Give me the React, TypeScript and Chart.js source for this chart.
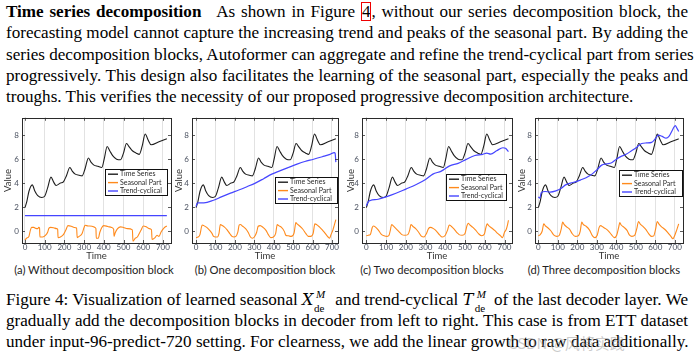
import React, { useEffect, useRef } from "react";
import { Chart, registerables } from "chart.js";
Chart.register(...registerables);

// ---------- DATA ----------
// Time series (same in every panel)
const seriesT = [0, 10, 20, 37, 50, 65, 85, 100, 115, 132, 145, 158, 180, 195, 210, 228, 240, 255, 275, 290, 305, 322, 335, 350, 370, 390, 402, 417, 430, 445, 465, 485, 500, 515, 530, 545, 565, 580, 595, 610, 625, 640, 680, 720];
const seriesV = [1.95, 2.5, 3.3, 3.85, 3.35, 2.95, 2.8, 2.9, 3.6, 4.5, 4.1, 3.8, 4.0, 4.1, 4.6, 5.3, 5.0, 4.75, 4.65, 4.6, 5.2, 6.1, 5.75, 5.5, 5.4, 5.3, 6.0, 7.05, 6.7, 6.3, 6.0, 5.95, 6.5, 7.3, 7.0, 6.7, 6.5, 6.4, 7.1, 8.1, 7.6, 7.2, 7.45, 7.7];

// Seasonal parts
const seasA_T = [0, 8, 20, 28, 34, 45, 55, 65, 70, 74, 76, 90, 105, 115, 122, 130, 145, 160, 166, 168, 180, 195, 208, 218, 235, 250, 262, 265, 275, 290, 300, 305, 320, 340, 355, 360, 362, 372, 380, 390, 400, 420, 440, 450, 452, 458, 470, 485, 500, 520, 545, 548, 560, 570, 580, 590, 600, 615, 630, 642, 645, 660, 670, 680, 690, 705, 720];
const seasA_V = [-0.75, -0.6, -0.45, 0.1, 0.3, 0.3, 0.22, 0.2, 0.3, 0.25, -0.5, -0.5, -0.35, -0.1, 0.25, 0.3, 0.28, 0.2, 0.15, -0.55, -0.5, -0.3, 0.1, 0.45, 0.4, 0.3, 0.25, -0.55, -0.45, -0.2, 0.3, 0.48, 0.42, 0.4, 0.3, 0.2, -0.6, -0.6, -0.1, 0.3, 0.45, 0.38, 0.3, 0.15, -0.45, -0.15, 0.2, 0.35, 0.3, 0.2, 0.1, -0.85, -0.6, -0.5, -0.2, 0.1, 0.42, 0.35, 0.2, 0.1, -0.7, -0.55, -0.35, -0.45, -0.1, 0.25, 0.42];

const seasB_T = [0, 10, 20, 28, 32, 40, 55, 70, 82, 90, 100, 110, 118, 125, 130, 145, 160, 175, 185, 195, 205, 215, 222, 228, 240, 255, 268, 280, 290, 300, 312, 320, 330, 345, 360, 372, 385, 398, 410, 418, 425, 440, 455, 462, 475, 490, 505, 514, 520, 535, 550, 565, 578, 590, 603, 612, 620, 635, 650, 665, 680, 688, 695, 705, 712, 720];
const seasB_V = [-0.55, -0.5, -0.3, 0.35, 0.5, 0.45, 0.3, 0.05, -0.2, -0.45, -0.5, -0.5, -0.2, 0.55, 0.5, 0.35, 0.1, -0.25, -0.45, -0.5, -0.45, -0.1, 0.5, 0.55, 0.4, 0.2, -0.1, -0.5, -0.6, -0.5, -0.1, 0.4, 0.45, 0.3, 0.05, -0.3, -0.55, -0.5, -0.2, 0.55, 0.45, 0.3, -0.05, -0.35, -0.4, -0.45, -0.15, 0.7, 0.6, 0.4, 0.15, -0.2, -0.45, -0.45, -0.2, 0.6, 0.55, 0.35, 0.1, -0.2, -0.5, -0.6, -0.3, 0.1, 0.5, 0.95];

const seasC_T = [0, 10, 20, 30, 36, 45, 60, 75, 90, 105, 115, 122, 128, 135, 150, 165, 180, 195, 210, 220, 226, 235, 250, 265, 280, 292, 305, 315, 325, 340, 355, 370, 385, 400, 412, 420, 430, 445, 460, 470, 485, 500, 510, 516, 525, 540, 555, 570, 585, 598, 606, 612, 620, 635, 650, 665, 680, 690, 700, 708, 715, 720];
const seasC_V = [-0.4, -0.35, -0.3, 0.3, 0.42, 0.35, 0.1, -0.25, -0.4, -0.45, -0.35, 0.1, 0.55, 0.45, 0.2, -0.05, -0.3, -0.35, -0.3, 0.1, 0.55, 0.4, 0.2, -0.1, -0.45, -0.5, -0.2, 0.2, 0.3, 0.2, 0.0, -0.3, -0.5, -0.35, 0.1, 0.5, 0.4, 0.15, -0.15, -0.3, -0.35, -0.2, 0.45, 0.65, 0.5, 0.3, 0.05, -0.25, -0.4, -0.25, 0.3, 0.6, 0.45, 0.25, 0.05, -0.2, -0.4, -0.55, -0.1, 0.1, 0.5, 0.9];

const seasD_T = [0, 10, 20, 28, 35, 50, 65, 80, 95, 108, 118, 125, 132, 145, 160, 175, 190, 205, 215, 223, 230, 245, 262, 278, 290, 302, 312, 320, 330, 345, 360, 375, 390, 402, 412, 418, 425, 440, 455, 468, 480, 495, 505, 514, 522, 535, 550, 565, 580, 592, 602, 610, 618, 632, 648, 665, 680, 690, 700, 710, 720];
const seasD_V = [-0.4, -0.3, 0.0, 0.6, 0.45, 0.25, 0.0, -0.35, -0.45, -0.35, 0.2, 0.75, 0.55, 0.35, 0.15, -0.25, -0.45, -0.4, 0.0, 0.75, 0.55, 0.4, 0.1, -0.4, -0.55, -0.35, 0.3, 0.45, 0.35, 0.2, 0.0, -0.3, -0.55, -0.35, 0.3, 0.7, 0.5, 0.3, 0.05, -0.35, -0.45, -0.35, 0.2, 0.8, 0.6, 0.4, 0.15, -0.2, -0.45, -0.4, 0.2, 0.8, 0.6, 0.35, 0.15, -0.15, -0.45, -0.65, -0.35, 0.1, 0.6];

// Trend-cyclical parts
const trendA_T = [0, 720];
const trendA_V = [1.28, 1.28];

const trendB_T = [0, 5, 10, 40, 90, 130, 177, 220, 262, 305, 348, 390, 434, 475, 520, 560, 605, 650, 690, 712, 716, 720];
const trendB_V = [2.05, 2.3, 2.35, 2.35, 2.57, 2.85, 3.16, 3.42, 3.7, 4.0, 4.37, 4.75, 5.04, 5.3, 5.58, 5.8, 5.99, 6.2, 6.4, 6.55, 6.5, 5.75];

const trendC_T = [0, 10, 20, 60, 100, 150, 200, 253, 300, 337, 380, 422, 465, 506, 550, 590, 610, 630, 660, 692, 705, 720];
const trendC_V = [2.1, 2.45, 2.55, 2.65, 2.85, 3.15, 3.5, 3.88, 4.3, 4.75, 5.0, 5.44, 5.65, 5.98, 6.3, 6.4, 6.5, 6.42, 6.7, 6.95, 6.9, 6.62];

const trendD_T = [0, 8, 15, 35, 60, 90, 120, 140, 165, 190, 215, 245, 275, 300, 325, 350, 376, 400, 427, 450, 478, 505, 530, 555, 581, 600, 615, 635, 655, 670, 690, 702, 712, 720];
const trendD_V = [2.85, 2.75, 3.2, 3.3, 3.25, 3.35, 3.6, 3.85, 4.0, 4.1, 4.25, 4.45, 4.75, 5.1, 5.5, 5.6, 5.7, 6.0, 6.25, 6.4, 6.7, 7.0, 7.3, 7.35, 7.4, 7.7, 8.0, 7.9, 7.75, 7.9, 8.5, 8.8, 8.55, 8.3];

const xTicks = [0, 100, 200, 300, 400, 500, 600, 700];
const yTicks = [0, 2, 4, 6, 8];
const seriesLabels = ["Time Series", "Seasonal Part", "Trend-cyclical"];
const captions = [
  "(a) Without decomposition block",
  "(b) One decomposition block",
  "(c) Two decomposition blocks",
  "(d) Three decomposition blocks",
];

// ---------- STYLE ----------
const BLACK = "#1e1e1e";
const ORANGE = "#ff8a1c";
const BLUE = "#4545ff";
const SANS = "Lato, 'Open Sans', sans-serif";
const SERIF = "'Liberation Serif', 'Times New Roman', serif";

const zip = (t: number[], v: number[]) => t.map((x, i) => ({ x, y: v[i] }));

const panels = [
  { left: 0, width: 176, yw: 22, xmin: -15, xmax: 741, seas: [seasA_T, seasA_V], trend: [trendA_T, trendA_V], lg: { fx: 0.557, fy: 0.41, w: 62, h: 26 }, capC: 94 },
  { left: 171, width: 172, yw: 21, xmin: -21, xmax: 731, seas: [seasB_T, seasB_V], trend: [trendB_T, trendB_V], lg: { fx: 0.568, fy: 0.473, w: 62, h: 26 }, capC: 265 },
  { left: 343, width: 174, yw: 19, xmin: -22, xmax: 738, seas: [seasC_T, seasC_V], trend: [trendC_T, trendC_V], lg: { fx: 0.56, fy: 0.45, w: 60, h: 26 }, capC: 432 },
  { left: 514, width: 174, yw: 21, xmin: -17, xmax: 742, seas: [seasD_T, seasD_V], trend: [trendD_T, trendD_V], lg: { fx: 0.568, fy: 0.42, w: 63, h: 26 }, capC: 604 },
];

const frameLegendPlugin = {
  id: "frameLegend",
  afterDatasetsDraw(chart: any, _a: any, opts: any) {
    const { ctx, chartArea: a } = chart;
    ctx.save();
    const ys = chart.scales.y;
    const xs = chart.scales.x;
    ctx.strokeStyle = "#333";
    ctx.lineWidth = 0.8;
    ctx.beginPath();
    yTicks.forEach((v) => {
      const py = Math.round(ys.getPixelForValue(v)) + 0.5;
      ctx.moveTo(a.left, py);
      ctx.lineTo(a.left + 3, py);
      ctx.moveTo(a.right, py);
      ctx.lineTo(a.right - 3, py);
    });
    xTicks.forEach((v) => {
      const px = Math.round(xs.getPixelForValue(v)) + 0.5;
      ctx.moveTo(px, a.bottom);
      ctx.lineTo(px, a.bottom - 3);
      ctx.moveTo(px, a.top);
      ctx.lineTo(px, a.top + 3);
    });
    ctx.stroke();
    ctx.strokeStyle = "#2a2a2a";
    ctx.lineWidth = 1;
    ctx.strokeRect(Math.round(a.left) + 0.5, Math.round(a.top) + 0.5, Math.round(a.right - a.left), Math.round(a.bottom - a.top));
    const lx = Math.round(a.left + opts.fx * (a.right - a.left)) + 0.5;
    const ly = Math.round(a.top + opts.fy * (a.bottom - a.top)) + 0.5;
    ctx.fillStyle = "#fff";
    ctx.fillRect(lx, ly, opts.w, opts.h);
    ctx.strokeStyle = "#111";
    ctx.lineWidth = 1;
    ctx.strokeRect(lx, ly, opts.w, opts.h);
    chart.data.datasets.forEach((ds: any, i: number) => {
      const ry = ly + 4.7 + i * 8.4;
      ctx.strokeStyle = ds.borderColor;
      ctx.lineWidth = 1.4;
      ctx.beginPath();
      ctx.moveTo(lx + 2.5, ry);
      ctx.lineTo(lx + 12.5, ry);
      ctx.stroke();
      ctx.fillStyle = "#2a2a2a";
      ctx.font = `7px ${SANS}`;
      ctx.textBaseline = "middle";
      ctx.fillText(ds.label, lx + 14.5, ry);
    });
    ctx.restore();
  },
};

function Panel({ p }: { p: any }) {
  const ref = useRef<HTMLCanvasElement>(null);
  useEffect(() => {
    const chart = new Chart(ref.current as HTMLCanvasElement, {
      type: "line",
      data: {
        datasets: [
          { label: seriesLabels[0], data: zip(seriesT, seriesV), borderColor: BLACK, borderWidth: 1.1, pointRadius: 0, cubicInterpolationMode: "monotone", order: 3 } as any,
          { label: seriesLabels[1], data: zip(p.seas[0], p.seas[1]), borderColor: ORANGE, borderWidth: 1.1, pointRadius: 0, cubicInterpolationMode: "monotone", order: 2 } as any,
          { label: seriesLabels[2], data: zip(p.trend[0], p.trend[1]), borderColor: BLUE, borderWidth: 1.2, pointRadius: 0, cubicInterpolationMode: "monotone", order: 1 } as any,
        ],
      },
      options: {
        animation: false,
        responsive: false,
        devicePixelRatio: 1,
        layout: { padding: { top: 4, right: 5, left: 0, bottom: 0 } },
        plugins: { legend: { display: false }, tooltip: { enabled: false }, frameLegend: p.lg } as any,
        scales: {
          x: {
            type: "linear",
            min: p.xmin,
            max: p.xmax,
            afterBuildTicks: (s: any) => { s.ticks = xTicks.map((v) => ({ value: v })); },
            afterFit: (s: any) => { s.height = 19; },
            ticks: { font: { size: 8, family: SANS }, color: "#4a5160", padding: 0, maxRotation: 0, autoSkip: false },
            grid: { color: "#dadada", lineWidth: 0.8, drawTicks: false },
            border: { display: false },
            title: { display: true, text: "Time", font: { size: 9.5, family: SANS }, color: "#333", padding: 0 },
          },
          y: {
            type: "linear",
            min: -1,
            max: 9.45,
            afterBuildTicks: (s: any) => { s.ticks = yTicks.map((v) => ({ value: v })); },
            afterFit: (s: any) => { s.width = p.yw; },
            ticks: { font: { size: 8, family: SANS }, color: "#4a5160", padding: 3 },
            grid: { display: false, drawTicks: false },
            border: { display: false },
            title: { display: true, text: "Value", font: { size: 9.5, family: SANS }, color: "#333", padding: { top: 2, bottom: 0 } },
          },
        },
      },
      plugins: [frameLegendPlugin],
    } as any);
    return () => chart.destroy();
  }, []);
  return (
    <canvas
      ref={ref}
      width={p.width}
      height={152}
      style={{ position: "absolute", left: p.left, top: 110, width: p.width, height: 152 }}
    />
  );
}

const lineStyle = (cy: number, justify: boolean): React.CSSProperties => ({
  position: "absolute",
  left: 6,
  top: cy - 11,
  width: 682,
  height: 22,
  lineHeight: "22px",
  fontFamily: SERIF,
  fontSize: 17.1,
  color: "#000",
  whiteSpace: "nowrap",
  textAlign: "justify",
  textAlignLast: justify ? "justify" : "left",
});

function MathSym({ base }: { base: string }) {
  return (
    <span style={{ display: "inline-block", position: "relative", width: base === "X" ? 29 : 27, height: 20, verticalAlign: "-4px" }}>
      <span style={{ fontStyle: "italic", fontFamily: "'DejaVu Serif', serif", fontSize: 16, position: "absolute", left: 0, top: 0 }}>{base}</span>
      <span style={{ fontStyle: "italic", fontSize: 11, position: "absolute", left: 14, top: -6 }}>M</span>
      <span style={{ fontSize: 11, position: "absolute", left: 12, top: 8 }}>de</span>
    </span>
  );
}

export default function App() {
  const pc = [12, 33.3, 54.6, 75.9, 97.2];
  const cc = [300, 321, 342];
  return (
    <div style={{ position: "fixed", left: 0, top: 0, width: 694, height: 360, background: "#fff", overflow: "hidden" }}>
      <div style={lineStyle(pc[0], true)}>
        <b style={{ marginRight: 10 }}>Time series decomposition</b> As shown in Figure{" "}
        <span style={{ outline: "1.5px solid #e00", outlineOffset: -1, padding: "0 1px" }}>4</span>, without our series decomposition block, the
      </div>
      <div style={lineStyle(pc[1], true)}>forecasting model cannot capture the increasing trend and peaks of the seasonal part. By adding the</div>
      <div style={lineStyle(pc[2], true)}>series decomposition blocks, Autoformer can aggregate and refine the trend-cyclical part from series</div>
      <div style={lineStyle(pc[3], true)}>progressively. This design also facilitates the learning of the seasonal part, especially the peaks and</div>
      <div style={lineStyle(pc[4], false)}>troughs. This verifies the necessity of our proposed progressive decomposition architecture.</div>

      {panels.map((p, i) => (
        <Panel key={i} p={p} />
      ))}
      {panels.map((p, i) => (
        <div key={"c" + i} style={{ position: "absolute", left: p.capC - 90, width: 180, top: 262, height: 16, lineHeight: "16px", textAlign: "center", fontFamily: SANS, fontSize: 11.2, color: "#222", whiteSpace: "nowrap" }}>
          {captions[i]}
        </div>
      ))}

      <div style={lineStyle(cc[0], true)}>
        Figure 4: Visualization of learned seasonal <MathSym base="X" /> and trend-cyclical <MathSym base="T" /> of the last decoder layer. We
      </div>
      <div style={lineStyle(cc[1], true)}>gradually add the decomposition blocks in decoder from left to right. This case is from ETT dataset</div>
      <div style={lineStyle(cc[2], true)}>under input-96-predict-720 setting. For clearness, we add the linear growth to raw data additionally.</div>
      <div style={{ position: "absolute", left: 508, top: 332, fontFamily: "'Noto Sans CJK SC', sans-serif", fontSize: 15, color: "rgba(150,150,150,0.5)", whiteSpace: "nowrap" }}>
        CSDN @风将实践
      </div>
    </div>
  );
}
